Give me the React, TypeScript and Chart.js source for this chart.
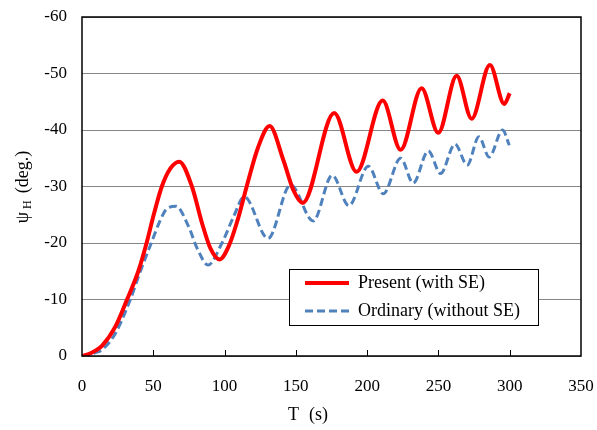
import React, { useEffect, useRef } from "react";
import { Chart, registerables } from "chart.js";

Chart.register(...registerables);

// Time (s) and heading angle psi_H (deg.)
const presentT = [0, 4.7, 9.4, 14, 23.4, 31.6, 39.5, 45.3, 50.3, 56, 62, 68.2, 77.1, 84.2, 90, 96.5, 103, 109.9, 115.5, 123.6, 131.6, 141.2, 148.2, 154.8, 176.9, 192.6, 210.9, 223.5, 238.2, 249.9, 262.8, 273.3, 286.1, 296.2, 300];
const presentPsi = [0, -0.35, -0.95, -1.8, -5.2, -10, -15, -20, -25, -30, -33.2, -34.4, -30, -23.5, -19.1, -17.1, -19.5, -24.7, -30, -37, -40.7, -34.7, -29.4, -27.1, -43, -32.6, -45.2, -36.5, -47.4, -39.5, -49.6, -42, -51.5, -44.6, -46.5];

const ordinaryT = [0, 4.7, 9.4, 14, 23.4, 33.9, 41.2, 48.6, 55, 59.6, 65.9, 74.8, 80.7, 88.4, 98.2, 106.4, 113.8, 130.5, 146.3, 162.2, 175.5, 187.2, 200.8, 211.3, 223.5, 232.3, 242.9, 251.5, 261.6, 270.2, 278.4, 285.6, 295, 299.7];
const ordinaryPsi = [0, -0.2, -0.6, -1.1, -4, -10, -15.2, -20, -24.1, -26.1, -26.5, -22.9, -19.1, -16.1, -20, -24.7, -28.2, -20.8, -30.3, -23.9, -32, -26.6, -33.6, -28.7, -35, -30.6, -36.3, -32.3, -37.5, -33.8, -38.8, -35.2, -40, -37.3];

const seriesLabels = ["Present (with SE)", "Ordinary (without SE)"];
const xTicks = [0, 50, 100, 150, 200, 250, 300, 350];
const yTicks = [-60, -50, -40, -30, -20, -10, 0];

const FONT = '"Liberation Serif", "Times New Roman", serif';

const decorPlugin = {
  id: "decor",
  afterDraw(chart: any) {
    const { ctx, chartArea } = chart;
    const { left, right, top, bottom } = chartArea;
    const xs = chart.scales.x;
    ctx.save();
    // frame
    ctx.strokeStyle = "#000";
    ctx.lineWidth = 1.5;
    ctx.strokeRect(left, top, right - left, bottom - top);
    // inward x tick marks
    ctx.lineWidth = 1;
    xTicks.forEach((v) => {
      if (v === 0 || v === 350) return;
      const px = Math.round(xs.getPixelForValue(v)) + 0.5;
      ctx.beginPath();
      ctx.moveTo(px, bottom);
      ctx.lineTo(px, bottom - 6);
      ctx.stroke();
    });
    // legend
    const bx = 289, by = 269, bw = 249, bh = 56;
    ctx.fillStyle = "#fff";
    ctx.fillRect(bx, by, bw, bh);
    ctx.strokeStyle = "#000";
    ctx.lineWidth = 1;
    ctx.strokeRect(bx + 0.5, by + 0.5, bw, bh);
    chart.data.datasets.forEach((ds: any, i: number) => {
      const y = i === 0 ? 283 : 311;
      ctx.beginPath();
      ctx.strokeStyle = ds.borderColor;
      ctx.lineWidth = ds.borderWidth;
      ctx.setLineDash(ds.borderDash || []);
      ctx.moveTo(305, y);
      ctx.lineTo(349, y);
      ctx.stroke();
      ctx.setLineDash([]);
      ctx.fillStyle = "#000";
      ctx.font = `18px ${FONT}`;
      ctx.textBaseline = "middle";
      ctx.textAlign = "left";
      ctx.fillText(ds.label, 358, y);
    });
    // x title
    ctx.fillStyle = "#000";
    ctx.font = `18px ${FONT}`;
    ctx.textBaseline = "alphabetic";
    ctx.textAlign = "left";
    ctx.fillText("T", 288, 420);
    ctx.fillText("(s)", 309, 420);
    // y title with subscript
    ctx.translate(22, 187);
    ctx.rotate(-Math.PI / 2);
    ctx.font = `18px ${FONT}`;
    const w1 = ctx.measureText("\u03C8").width;
    const w3 = ctx.measureText("(deg.)").width;
    ctx.font = `12px ${FONT}`;
    const w2 = ctx.measureText("H").width;
    const gap1 = 3, gap2 = 7;
    const total = w1 + gap1 + w2 + gap2 + w3;
    let x = -total / 2;
    ctx.textBaseline = "alphabetic";
    ctx.font = `18px ${FONT}`;
    ctx.fillText("\u03C8", x, 6);
    x += w1 + gap1;
    ctx.font = `12px ${FONT}`;
    ctx.fillText("H", x, 9);
    x += w2 + gap2;
    ctx.font = `18px ${FONT}`;
    ctx.fillText("(deg.)", x, 6);
    ctx.restore();
  },
};

export default function App() {
  const ref = useRef<HTMLCanvasElement>(null);
  useEffect(() => {
    if (!ref.current) return;
    const toPts = (xs: number[], ys: number[]) => xs.map((x, i) => ({ x, y: ys[i] }));
    const chart = new Chart(ref.current, {
      type: "line",
      data: {
        datasets: [
          {
            label: seriesLabels[0],
            data: toPts(presentT, presentPsi),
            borderColor: "#FF0000",
            borderWidth: 4,
            pointRadius: 0,
            cubicInterpolationMode: "monotone",
            fill: false,
          },
          {
            label: seriesLabels[1],
            data: toPts(ordinaryT, ordinaryPsi),
            borderColor: "#4F81BD",
            borderWidth: 3,
            borderDash: [8, 4],
            pointRadius: 0,
            cubicInterpolationMode: "monotone",
            fill: false,
          },
        ],
      },
      options: {
        animation: false,
        responsive: true,
        maintainAspectRatio: false,
        layout: { padding: { top: 17, right: 16, left: 0, bottom: 0 } },
        plugins: { legend: { display: false }, tooltip: { enabled: false } },
        scales: {
          x: {
            type: "linear",
            min: 0,
            max: 350,
            afterBuildTicks: (s: any) => { s.ticks = xTicks.map((v) => ({ value: v })); },
            afterFit: (s: any) => { s.height = 74; s.paddingLeft = 0; s.paddingRight = 0; },
            grid: { display: false, drawTicks: false },
            border: { display: false },
            ticks: { padding: 20, color: "#000", font: { family: FONT, size: 17 }, maxRotation: 0 },
          },
          y: {
            type: "linear",
            min: -60,
            max: 0,
            reverse: true,
            afterBuildTicks: (s: any) => { s.ticks = yTicks.map((v) => ({ value: v })); },
            afterFit: (s: any) => { s.width = 82; s.paddingTop = 0; s.paddingBottom = 0; },
            grid: { color: "#868686", lineWidth: 1, drawTicks: false },
            border: { display: false },
            ticks: { padding: 15, color: "#000", font: { family: FONT, size: 17 } },
          },
        },
      },
      plugins: [decorPlugin],
    });
    return () => chart.destroy();
  }, []);
  return (
    <div style={{ position: "fixed", left: 0, top: 0, width: 597, height: 430, background: "#fff" }}>
      <canvas ref={ref} />
    </div>
  );
}
